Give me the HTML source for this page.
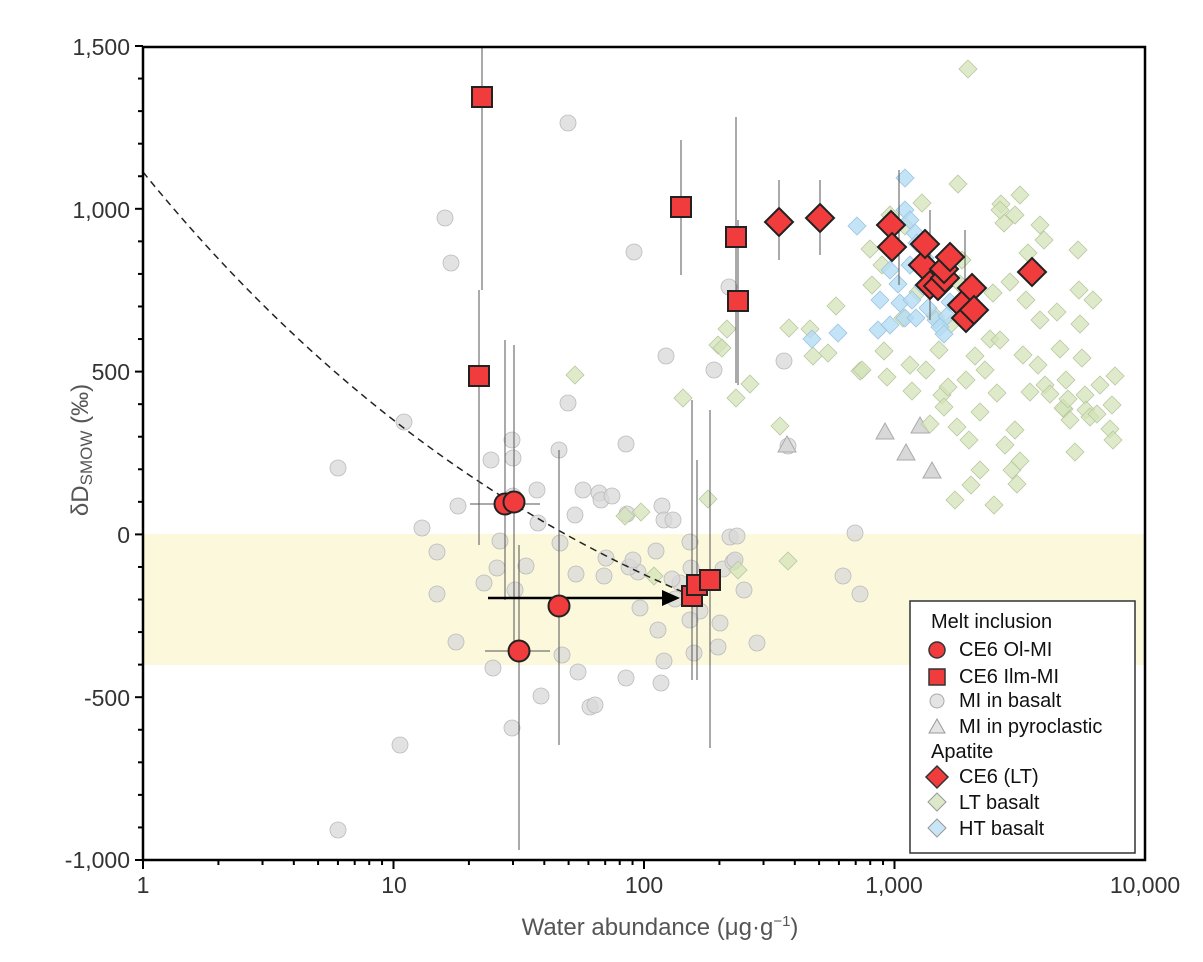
<!DOCTYPE html>
<html><head><meta charset="utf-8"><style>
html,body{margin:0;padding:0;background:#fff;}
svg{display:block;font-family:"Liberation Sans",Arial,sans-serif;}
</style></head><body>
<svg id="s" width="1203" height="962" viewBox="0 0 1203 962" xmlns="http://www.w3.org/2000/svg">
<rect x="143" y="534" width="1002" height="131" fill="#fbf8dc"/>
<g id="g"></g>
<rect x="143" y="47" width="1002" height="813" fill="none" stroke="#000" stroke-width="2.5"/>
<g font-size="23" fill="#333" text-anchor="end">
<text x="130" y="55">1,500</text>
<text x="130" y="218">1,000</text>
<text x="130" y="380">500</text>
<text x="130" y="543">0</text>
<text x="130" y="706">-500</text>
<text x="130" y="868">-1,000</text>
</g>
<g font-size="23" fill="#333" text-anchor="middle">
<text x="143" y="893">1</text>
<text x="394" y="893">10</text>
<text x="644" y="893">100</text>
<text x="894" y="893">1,000</text>
<text x="1145" y="893">10,000</text>
<text x="660" y="935" font-size="24" fill="#555">Water abundance (μg·g<tspan dy="-9" font-size="15">−1</tspan><tspan dy="9">)</tspan></text>
</g>
<text transform="translate(88,450) rotate(-90)" font-size="24" fill="#555" text-anchor="middle">δD<tspan font-size="17" dy="4">SMOW</tspan><tspan dy="-4"> (‰)</tspan></text>
<g>
<rect x="910" y="601" width="225" height="252" fill="#fff" stroke="#333" stroke-width="1.5"/>
<g font-size="20" fill="#111">
<text x="931" y="628">Melt inclusion</text>
<text x="959" y="656">CE6 Ol-MI</text>
<text x="959" y="683">CE6 Ilm-MI</text>
<text x="959" y="707">MI in basalt</text>
<text x="959" y="733">MI in pyroclastic</text>
<text x="931" y="758">Apatite</text>
<text x="959" y="783">CE6 (LT)</text>
<text x="959" y="809">LT basalt</text>
<text x="959" y="835">HT basalt</text>
</g>
<circle cx="937" cy="650" r="8" fill="#f03c3c" stroke="#333" stroke-width="1.5"/>
<rect x="929" y="669" width="16" height="16" fill="#f03c3c" stroke="#333" stroke-width="1.5"/>
<circle cx="937" cy="701" r="7" fill="#e4e4e4" stroke="#aaa"/>
<polygon points="937,719 945,733 929,733" fill="#e4e4e4" stroke="#999"/>
<polygon points="937,766 948,777 937,788 926,777" fill="#f03c3c" stroke="#333" stroke-width="1.5"/>
<polygon points="937,793 946,802 937,811 928,802" fill="#dde8c8" stroke="#999"/>
<polygon points="937,819 946,828 937,837 928,828" fill="#c8e6f8" stroke="#999"/>
</g>
</svg>
<script>
const NS="http://www.w3.org/2000/svg",g=document.getElementById('g'),s=document.getElementById('s');
function el(t,a,p){const e=document.createElementNS(NS,t);for(const k in a)e.setAttribute(k,a[k]);(p||g).appendChild(e);return e;}
for(let v=-1000;v<=1500;v+=100){const y=534.4-v*0.3256;const maj=v%500==0;el('line',{x1:maj?135:138,x2:143,y1:y,y2:y,stroke:'#000','stroke-width':2},s);}
for(let d=0;d<4;d++)for(let k=1;k<=10;k++){if(d==3&&k>1)continue;const x=143+250.5*(d+Math.log10(k));el('line',{x1:x,x2:x,y1:860,y2:k==1||k==10?869:865,stroke:'#000','stroke-width':2},s);}
const gc=[[338,468],[400,745],[338,830],[445,218],[451,263],[404,422],[422,528],[437,552],[437,594],[458,506],[456,642],[484,583],[491,460],[497,568],[500,541],[512,440],[513,458],[513,496],[515,590],[526,566],[537,490],[538,523],[541,696],[559,450],[560,543],[562,655],[568,403],[575,515],[576,574],[578,672],[583,490],[590,707],[595,705],[599,493],[601,500],[604,576],[606,558],[626,444],[627,514],[626,678],[634,252],[638,572],[640,608],[656,551],[658,630],[661,683],[662,506],[664,520],[664,661],[666,356],[673,520],[675,599],[690,542],[691,568],[700,611],[714,370],[718,647],[723,569],[730,537],[733,562],[737,536],[729,287],[744,590],[757,643],[784,361],[788,446],[843,576],[855,533],[860,594],[568,123],[612,496],[690,620],[694,653],[629,567],[633,560],[680,583],[672,579],[720,623],[735,560],[512,728],[493,668]];
gc.forEach(p=>el('circle',{cx:p[0],cy:p[1],r:8,fill:'#d8d8d8','fill-opacity':.75,stroke:'#bbb','stroke-width':.8}));
[[885,432],[906,453],[920,426],[932,471],[787,445]].forEach(p=>el('polygon',{points:`${p[0]},${p[1]-9} ${p[0]+9},${p[1]+7} ${p[0]-9},${p[1]+7}`,fill:'#d8d8d8',stroke:'#aaa'}));
const lt=[[575,375],[625,516],[641,512],[654,576],[683,398],[708,499],[718,345],[722,348],[727,329],[736,398],[738,570],[750,384],[780,426],[789,328],[788,561],[810,329],[813,356],[828,353],[836,306],[860,371],[862,370],[872,285],[870,249],[882,265],[890,215],[884,351],[887,377],[903,318],[905,226],[910,365],[912,391],[918,292],[922,203],[926,370],[930,424],[935,316],[939,350],[942,395],[944,407],[948,387],[951,324],[957,427],[960,284],[962,260],[966,380],[969,440],[971,485],[975,356],[980,412],[985,370],[990,339],[994,505],[997,393],[1000,340],[1001,204],[1004,223],[1010,282],[1012,470],[1015,430],[1017,484],[1020,461],[1023,355],[1026,300],[1028,253],[1030,392],[1034,270],[1038,365],[1040,320],[1045,385],[1050,394],[1057,312],[1060,349],[1064,409],[1066,380],[1070,420],[1075,452],[1078,250],[1079,290],[1080,324],[1082,358],[1085,395],[1086,410],[1090,417],[1093,300],[1097,414],[1100,385],[1110,429],[1112,405],[1113,440],[1115,376],[968,69],[958,184],[993,293],[1020,195],[1000,210],[1015,215],[1040,225],[1044,240],[1063,408],[1068,399],[955,500],[980,470],[1005,445]];
const dia=(p,r,f,st,sw,op)=>el('polygon',{points:`${p[0]},${p[1]-r} ${p[0]+r},${p[1]} ${p[0]},${p[1]+r} ${p[0]-r},${p[1]}`,fill:f,stroke:st,'stroke-width':sw,'fill-opacity':op});
lt.forEach(p=>dia(p,9,'#d4e3b8','#b8c8a0',.8,.75));
[[857,226],[838,333],[812,339],[878,330],[880,300],[890,270],[905,178],[905,210],[910,220],[915,233],[898,284],[900,303],[905,318],[890,325],[912,300],[916,318],[923,286],[928,308],[936,320],[940,327],[944,334],[950,302],[947,316],[935,285],[925,258],[917,243],[910,265]].forEach(p=>dia(p,9,'#b4dcf4','#9cc4e0',.8,.8));
el('path',{d:'M143,172 Q380,464 690,595',fill:'none',stroke:'#222','stroke-width':1.5,'stroke-dasharray':'7,5'});
const eb=[[482,47,152],[482,97,290],[479,290,545],[681,140,275],[736,117,383],[738,220,385],[692,400,680],[697,460,680],[710,410,748],[505,340,600],[514,345,660],[559,450,745],[519,545,850],[899,170,285],[820,180,255],[779,180,260],[965,230,330],[930,210,320]];
eb.forEach(e=>el('line',{x1:e[0],x2:e[0],y1:e[1],y2:e[2],stroke:'#555','stroke-width':1}));
[[470,540,504],[485,550,651]].forEach(e=>el('line',{x1:e[0],x2:e[1],y1:e[2],y2:e[2],stroke:'#555','stroke-width':1}));
el('line',{x1:488,x2:664,y1:598,y2:598,stroke:'#000','stroke-width':2.5});
el('polygon',{points:'680,598 662,590 662,606',fill:'#000'});
[[779,222],[820,218],[891,225],[892,247],[923,265],[925,244],[930,285],[938,286],[945,278],[944,269],[950,257],[962,305],[966,318],[972,288],[974,310],[1032,272]].forEach(p=>dia(p,14,'#f03c3c','#222',2,1));
[[482,97],[479,376],[681,207],[736,237],[738,301],[692,596],[697,585],[710,580]].forEach(p=>el('rect',{x:p[0]-10,y:p[1]-10,width:20,height:20,fill:'#f03c3c',stroke:'#222','stroke-width':2}));
[[505,504],[514,502],[559,606],[519,651]].forEach(p=>el('circle',{cx:p[0],cy:p[1],r:10.5,fill:'#f03c3c',stroke:'#222','stroke-width':2}));
</script>
</body></html>
